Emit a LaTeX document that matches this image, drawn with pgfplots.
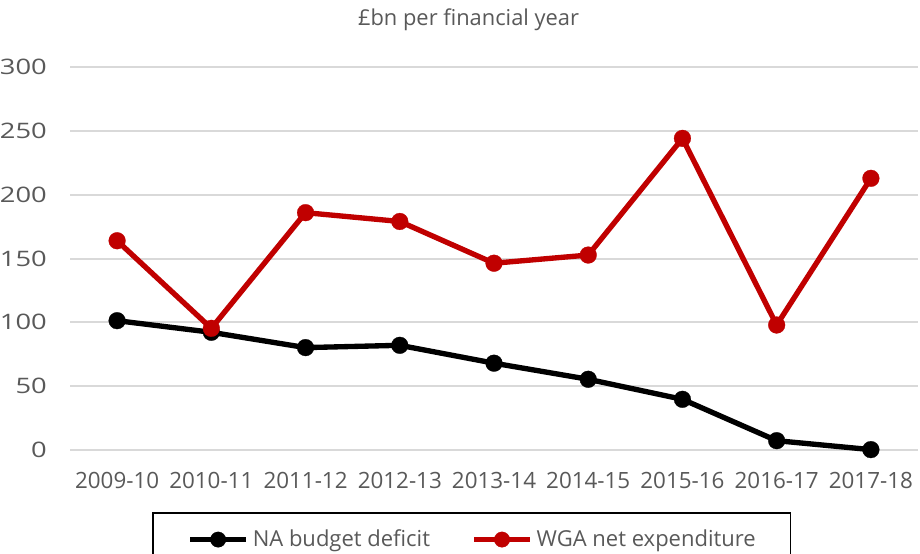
\documentclass[border=0pt]{standalone}
\usepackage{fontspec}
\setmainfont{Open Sans}
\newfontfamily\widefont[FakeStretch=1.28]{Open Sans}
\usepackage{pgfplots}
\pgfplotsset{compat=1.18}
\definecolor{txt}{HTML}{595959}
\definecolor{wred}{HTML}{C00000}
\definecolor{gridc}{HTML}{D9D9D9}
\begin{document}
\begin{tikzpicture}[x=1pt,y=1pt]
\fill[white] (0,0) rectangle (690,414.75);
\begin{scope}
\clip (0,0) rectangle (690,414.75);
\node[font=\fontsize{16.4}{18}\selectfont, text=txt, anchor=base, inner sep=0pt] at (351.4,395.6) {£bn per financial year};
\begin{axis}[
  at={(52.5pt,77.25pt)}, anchor=south west,
  scale only axis, width=636pt, height=287.25pt,
  xmin=-0.5, xmax=8.5, ymin=0, ymax=300,
  xtick={0,...,8},
  xticklabels={2009-10,2010-11,2011-12,2012-13,2013-14,2014-15,2015-16,2016-17,2017-18},
  ytick={0,50,...,300},
  axis line style={draw=none},
  major tick length=0pt,
  ymajorgrids, grid style={gridc, line width=1.5pt},
  /pgf/number format/assume math mode=true,
  xticklabel style={font=\fontsize{16.8}{19}\selectfont, text=txt, anchor=north, inner sep=0pt, yshift=-16.5pt},
  yticklabel style={font=\widefont\fontsize{16}{18}\selectfont, text=txt, anchor=east, inner sep=0pt, xshift=-17.25pt},
  clip=false,
  legend columns=2,
  legend image code/.code={
    \draw[#1, mark=none] (0pt,0pt) -- (42pt,0pt);
    \draw[#1, only marks, mark size=5.8pt] plot coordinates {(21pt,0pt)};
  },
  legend style={at={(0.0967,-0.1619)}, anchor=north west, draw=black, line width=1.2pt,
    inner xsep=26pt, inner ysep=13pt,
    font=\fontsize{16.5}{18}\selectfont, text=txt,
    nodes={inner sep=0pt, text=txt},
    /tikz/every odd column/.append style={column sep=3pt},
    /tikz/every even column/.append style={column sep=31pt},
  },
  legend cell align=left,
]
\addplot[black, line width=4pt, mark=*, mark size=6.3pt, mark options={line width=0.2pt}] coordinates {
 (0,101.3) (1,92.2) (2,80.2) (3,82) (4,68) (5,55.4) (6,39.7) (7,7.3) (8,0.3)};
\addlegendentry{NA budget deficit}
\addplot[wred, line width=4pt, mark=*, mark size=6.3pt, mark options={line width=0.2pt}] coordinates {
 (0,163.9) (1,95.3) (2,185.9) (3,179) (4,146.3) (5,152.7) (6,244.1) (7,97.9) (8,212.8)};
\addlegendentry{WGA net expenditure}
\end{axis}
\end{scope}
\pgfresetboundingbox
\useasboundingbox (0,0) rectangle (690,414.75);
\end{tikzpicture}
\end{document}
